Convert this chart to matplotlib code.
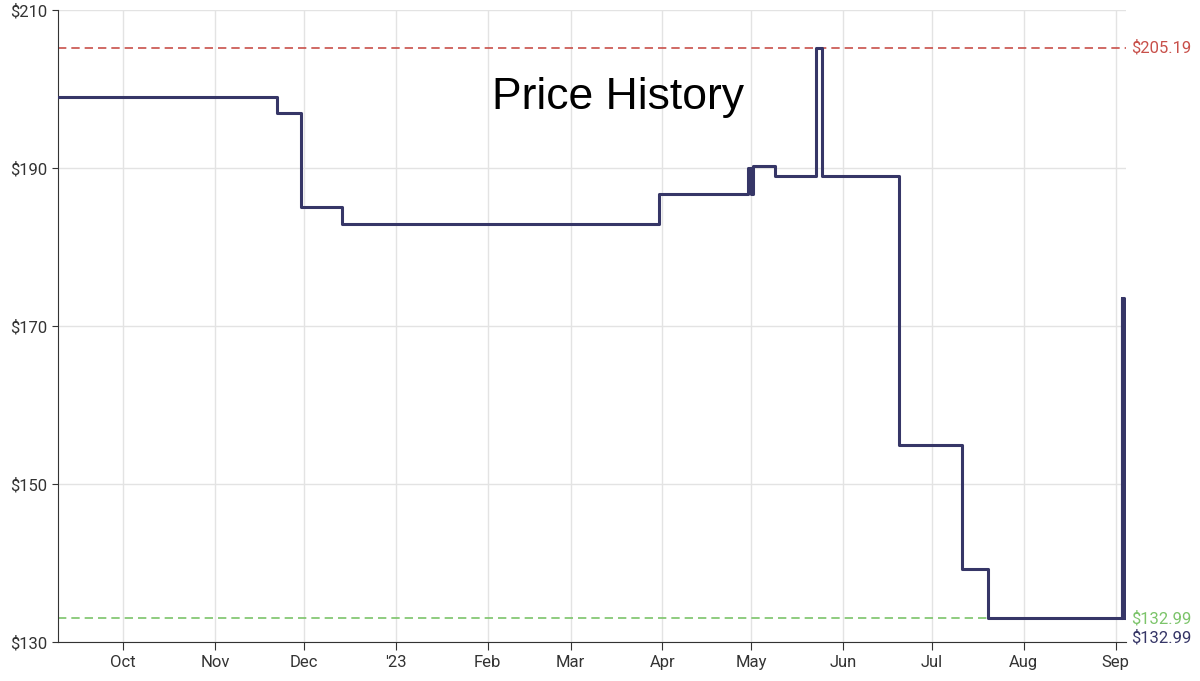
import matplotlib
matplotlib.use("Agg")
import matplotlib.pyplot as plt
from datetime import datetime

dates = ["2022-09-09", "2022-11-22", "2022-11-30", "2022-12-14", "2023-03-31",
         "2023-04-30", "2023-05-01", "2023-05-01 12:00", "2023-05-02", "2023-05-09",
         "2023-05-23", "2023-05-25", "2023-06-20", "2023-07-11", "2023-07-20",
         "2023-09-03", "2023-09-03 06:00", "2023-09-03 12:00", "2023-09-03 18:00", "2023-09-04"]
prices = [199.0, 196.9, 185.1, 182.9, 186.7,
          190.0, 186.7, 190.3, 190.3, 189.0,
          205.19, 189.0, 154.9, 139.3, 132.99,
          173.5, 132.99, 173.5, 132.99, 132.99]
highest = 205.19
lowest = 132.99
current = 132.99
month_labels = ["Oct", "Nov", "Dec", "'23", "Feb", "Mar", "Apr", "May", "Jun", "Jul", "Aug", "Sep"]
month_ticks = ["2022-10-01", "2022-11-01", "2022-12-01", "2023-01-01", "2023-02-01", "2023-03-01",
               "2023-04-01", "2023-05-01", "2023-06-01", "2023-07-01", "2023-08-01", "2023-09-01"]

x = [datetime.fromisoformat(d) for d in dates]
xmin = datetime(2022, 9, 9)
xmax = datetime(2023, 9, 4, 12)

plt.rcParams['font.family'] = ['Roboto', 'DejaVu Sans']
fig = plt.figure(figsize=(12, 6.81), dpi=100)
ax = fig.add_axes([58/1200, 39/681, (1126-58)/1200, (642-10)/681])

ax.step(x, prices, where='post', color='#363667', lw=2.2, zorder=3)
ax.axhline(highest, color='#c8504a', ls=(0, (5, 3)), lw=1.2, zorder=2)
ax.axhline(lowest, color='#7cc46a', ls=(0, (5, 3)), lw=1.2, zorder=2)

ax.set_xlim(xmin, xmax)
ax.set_ylim(130, 210)
ax.set_yticks([130, 150, 170, 190, 210])
ax.set_yticklabels(["$130", "$150", "$170", "$190", "$210"])
ax.set_xticks([datetime.fromisoformat(d) for d in month_ticks])
ax.set_xticklabels(month_labels)
ax.grid(True, color='#e3e3e3', lw=1)
ax.set_axisbelow(True)
for s in ['top', 'right']:
    ax.spines[s].set_visible(False)
ax.spines['left'].set_color('#333333')
ax.spines['bottom'].set_color('#333333')
ax.tick_params(axis='both', labelsize=12, colors='#333333', length=6)
ax.tick_params(axis='y', length=4)

ax.text(1.005, highest, "$205.19", transform=ax.get_yaxis_transform(), color='#c8504a',
        fontsize=12, va='center', ha='left')
ax.text(1.005, lowest, "$132.99", transform=ax.get_yaxis_transform(), color='#7cc46a',
        fontsize=12, va='center', ha='left')
ax.text(1.005, current - 2.5, "$132.99", transform=ax.get_yaxis_transform(), color='#363667',
        fontsize=12, va='center', ha='left')

fig.text(618/1200, 1 - 97/681, "Price History", fontsize=32, ha='center', va='center',
         family=['Liberation Sans', 'DejaVu Sans'], color='black')

fig.savefig("out.png", dpi=100)
